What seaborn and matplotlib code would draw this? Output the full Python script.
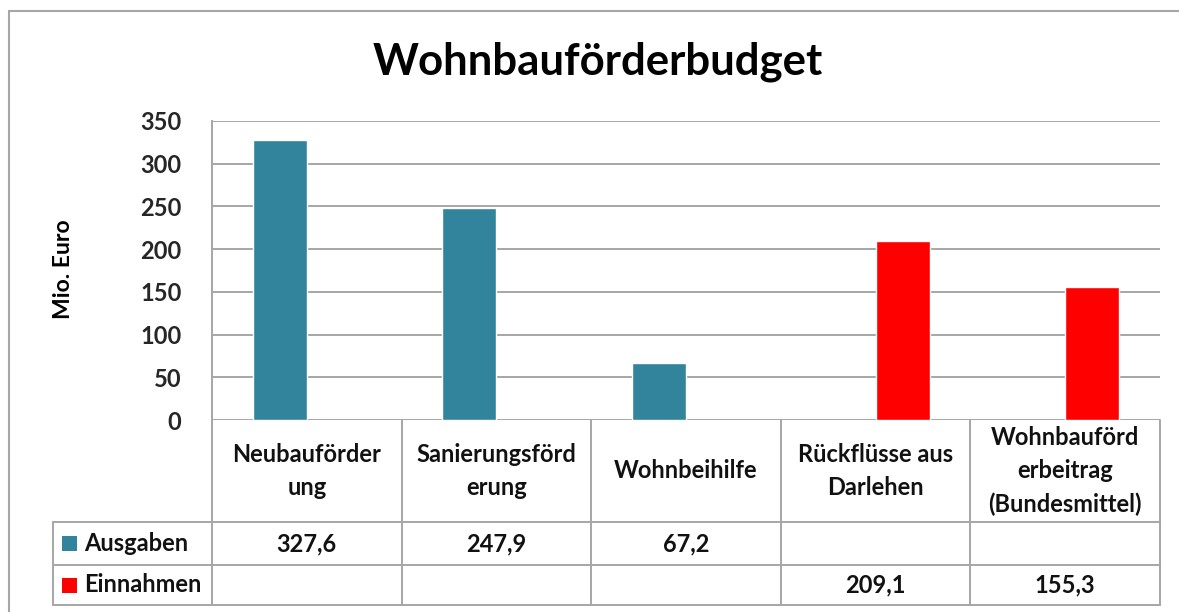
import matplotlib
matplotlib.use("Agg")
import matplotlib.pyplot as plt
import matplotlib.transforms as mtransforms
from matplotlib.patches import Rectangle
import seaborn as sns
import pandas as pd

# Daten
categories = ["Neubauförderung", "Sanierungsförderung", "Wohnbeihilfe",
              "Rückflüsse aus Darlehen", "Wohnbauförderbeitrag (Bundesmittel)"]
header_labels = ["Neubauförder\nung", "Sanierungsförd\nerung", "Wohnbeihilfe",
                 "Rückflüsse aus\nDarlehen", "Wohnbauförd\nerbeitrag\n(Bundesmittel)"]
series_names = ["Ausgaben", "Einnahmen"]
ausgaben = [327.6, 247.9, 67.2, None, None]
einnahmen = [None, None, None, 209.1, 155.3]
series_colors = ["#31849B", "#FF0000"]
yticks = [0, 50, 100, 150, 200, 250, 300, 350]

rows = []
for name, vals in zip(series_names, [ausgaben, einnahmen]):
    for cat, v in zip(categories, vals):
        rows.append({"Kategorie": cat, "Serie": name, "Wert": v})
df = pd.DataFrame(rows)

sns.set_style("white")
plt.rcParams["font.family"] = ["Lato", "DejaVu Sans"]

W, H = 1179, 612
fig = plt.figure(figsize=(W / 100, H / 100), dpi=100)

def fx(x):
    return x / W

def fy(y):
    return 1 - y / H

ax = fig.add_axes([fx(212), fy(420), fx(1160) - fx(212), fy(121) - fy(420)])
sns.barplot(data=df, x="Kategorie", y="Wert", hue="Serie", order=categories,
            hue_order=series_names, palette=series_colors, dodge=True,
            width=0.57, legend=False, saturation=1, ax=ax)

ax.set_xlim(-0.5, len(categories) - 0.5)
ax.set_ylim(0, 350)
ax.set_yticks(yticks)
ax.set_yticklabels([str(t) for t in yticks], fontsize=17, fontweight="bold")
ax.set_xticks([])
ax.set_xlabel("")
ax.set_ylabel("")
ax.tick_params(axis="y", length=0, pad=22)
ax.yaxis.grid(True, color="#A6A6A6", linewidth=1.4)
ax.set_axisbelow(True)
for s in ["top", "right", "bottom"]:
    ax.spines[s].set_visible(False)
ax.spines["left"].set_color("#A6A6A6")
ax.spines["left"].set_linewidth(1.4)

fig.text(fx(63), fy(269), "Mio. Euro", rotation=90, ha="center", va="center",
         fontsize=16.5, fontweight="bold", color="black")
fig.text(fx(598), fy(62), "Wohnbauförderbudget", ha="center", va="center",
         fontsize=31.5, fontweight="bold", color="black")

# Datentabelle
grid_col = "#A6A6A6"
trans = mtransforms.blended_transform_factory(ax.transData, fig.transFigure)
y_head_top, y_row1, y_row2, y_bottom = 420, 522, 565, 605
x_left = 53
n = len(categories)
lw = 1.4
for yy in [y_row1, y_row2, y_bottom]:
    fig.add_artist(plt.Line2D([fx(x_left), fx(1160)], [fy(yy)] * 2, color=grid_col, lw=lw))
for i in range(n + 1):
    fig.add_artist(plt.Line2D([i - 0.5, i - 0.5], [fy(y_head_top), fy(y_bottom)],
                              color=grid_col, lw=lw, transform=trans))
fig.add_artist(plt.Line2D([fx(x_left), fx(x_left)], [fy(y_row1), fy(y_bottom)],
                          color=grid_col, lw=lw))

for i, lab in enumerate(header_labels):
    fig.text(i, fy((y_head_top + y_row1) / 2), lab, transform=trans, ha="center",
             va="center", fontsize=17, fontweight="bold", linespacing=1.55,
             color="#111111")

for r, (name, vals, col) in enumerate(zip(series_names, [ausgaben, einnahmen], series_colors)):
    top = [y_row1, y_row2][r]
    bot = [y_row2, y_bottom][r]
    yc = (top + bot) / 2
    fig.add_artist(Rectangle((fx(62), fy(yc + 7.5)), fx(15), fy(0) - fy(15),
                             facecolor=col, edgecolor="none", transform=fig.transFigure))
    fig.text(fx(84), fy(yc), name, ha="left", va="center", fontsize=17,
             fontweight="bold", color="#111111")
    for i, v in enumerate(vals):
        if v is not None:
            fig.text(i, fy(yc), f"{v:.1f}".replace(".", ","), transform=trans,
                     ha="center", va="center", fontsize=17, fontweight="bold",
                     color="#111111")

# Diagrammrahmen
fig.add_artist(Rectangle((fx(9), fy(640)), fx(1200) - fx(9), fy(11) - fy(640),
                         facecolor="none", edgecolor="#A6A6A6", lw=1.5,
                         transform=fig.transFigure))

fig.savefig("out.png", dpi=100)
